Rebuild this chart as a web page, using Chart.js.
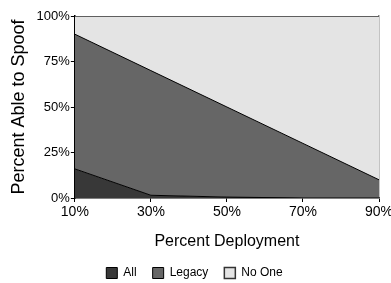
<!DOCTYPE html>
<html>
<head>
<meta charset="utf-8">
<script src="https://cdn.jsdelivr.net/npm/chart.js@4"></script>
<style>
	html, body { margin: 0; padding: 0; background: #fff; }
	#wrap { width: 391px; height: 283px; }
</style>
</head>
<body>
<div id="wrap"><canvas id="chart" width="391" height="283"></canvas></div>
<script>
	// ===== DATA =====
	const deployment = ['10%', '30%', '50%', '70%', '90%'];
	const allSpoof = [16, 1.5, 0.5, 0, 0];
	const legacySpoof = [74, 68.5, 49.5, 30, 10];
	const noOneSpoof = [10, 30, 50, 70, 90];
	const yTicks = [0, 25, 50, 75, 100];

	const font = 'Liberation Sans, Arial, sans-serif';

	const ctx = document.getElementById('chart').getContext('2d');

	new Chart(ctx, {
		type: 'line',
		data: {
			labels: deployment,
			datasets: [
				{
					label: 'All',
					data: allSpoof,
					backgroundColor: '#383838',
					borderColor: '#000',
					borderWidth: 1,
					fill: 'origin',
					pointRadius: 0,
					tension: 0
				},
				{
					label: 'Legacy',
					data: legacySpoof,
					backgroundColor: '#666666',
					borderColor: '#000',
					borderWidth: 1,
					fill: '-1',
					pointRadius: 0,
					tension: 0
				},
				{
					label: 'No One',
					data: noOneSpoof,
					backgroundColor: '#e4e4e4',
					borderColor: '#333',
					borderWidth: 1.5,
					fill: '-1',
					pointRadius: 0,
					tension: 0
				}
			]
		},
		options: {
			responsive: false,
			animation: false,
			layout: { padding: { top: 16, right: 10, left: 8, bottom: -6 } },
			scales: {
				x: {
					offset: false,
					grid: { display: true, drawOnChartArea: false, drawTicks: true, tickLength: 4, color: '#000' },
					border: { color: '#000', width: 1.5 },
					ticks: { color: '#000', font: { family: font, size: 14 }, padding: 2, maxRotation: 0 },
					title: { display: true, text: 'Percent Deployment', color: '#000', font: { family: font, size: 16 }, padding: { top: 9, bottom: 0 } },
					afterFit: axis => { axis.paddingRight = 0; }
				},
				y: {
					stacked: true,
					min: 0,
					max: 100,
					afterBuildTicks: axis => { axis.ticks = yTicks.map(v => ({ value: v })); },
					grid: { display: true, drawOnChartArea: false, drawTicks: true, tickLength: 4, color: '#000' },
					border: { color: '#000', width: 1.5 },
					ticks: { color: '#000', font: { family: font, size: 13 }, padding: 1, callback: v => v + '%' },
					title: { display: true, text: 'Percent Able to Spoof', color: '#000', font: { family: font, size: 18 }, padding: { top: 0, bottom: 6 } }
				},
				yRight: {
					position: 'right',
					min: 0,
					max: 100,
					grid: { display: false },
					border: { color: '#888', width: 1.5 },
					ticks: { display: false },
					afterFit: axis => { axis.width = 2; }
				}
			},
			plugins: {
				tooltip: { enabled: false },
				legend: {
					position: 'bottom',
					labels: {
						color: '#000',
						font: { family: font, size: 12 },
						boxWidth: 11,
						boxHeight: 11,
						padding: 16
					}
				}
			}
		}
	});
</script>
</body>
</html>
